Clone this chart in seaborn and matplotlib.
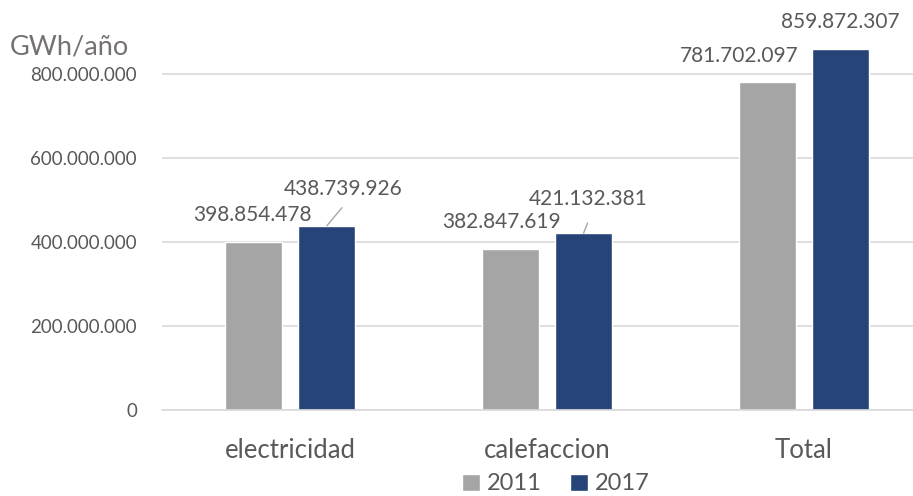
import numpy as np
import pandas as pd
import matplotlib
matplotlib.use("Agg")
import matplotlib.pyplot as plt
from matplotlib.ticker import FuncFormatter
import seaborn as sns

# data
categories = ["electricidad", "calefaccion", "Total"]
years = ["2011", "2017"]
values_2011 = [398854478, 382847619, 781702097]
values_2017 = [438739926, 421132381, 859872307]
label_2011 = ["398.854.478", "382.847.619", "781.702.097"]
label_2017 = ["438.739.926", "421.132.381", "859.872.307"]

df = pd.DataFrame({
    "categoria": categories * 2,
    "year": [years[0]] * 3 + [years[1]] * 3,
    "valor": values_2011 + values_2017,
})

sns.set_theme(style="white")
plt.rcParams["font.family"] = ["Lato", "DejaVu Sans"]

text_col = "#595959"
colors = {"2011": "#A5A5A5", "2017": "#264478"}

fig = plt.figure(figsize=(9.13, 4.96), dpi=100)
ax = fig.add_axes([162 / 913, 86 / 496, 770 / 913, 378 / 496])

sns.barplot(data=df, x="categoria", y="valor", hue="year", palette=colors,
            width=0.57, gap=0.22, ax=ax, saturation=1, errorbar=None)

ax.set_xlim(-0.5, 2.5)
ax.set_ylim(0, 900000000)
ax.set_yticks(np.arange(0, 800000001, 200000000))
ax.yaxis.set_major_formatter(FuncFormatter(lambda v, p: f"{v:,.0f}".replace(",", ".")))
ax.set_xlabel("")
ax.set_ylabel("")
ax.grid(axis="y", color="#D9D9D9", linewidth=1.2)
ax.set_axisbelow(True)
for s in ["top", "right", "left"]:
    ax.spines[s].set_visible(False)
ax.spines["bottom"].set_color("#D9D9D9")
ax.spines["bottom"].set_linewidth(1.2)
ax.tick_params(axis="y", labelsize=13.5, labelcolor=text_col, length=0, pad=18)
ax.tick_params(axis="x", labelsize=18.5, labelcolor=text_col, length=0, pad=20)

# data labels (offsets in pixels from bar top centre)
bars_2011 = ax.containers[0]
bars_2017 = ax.containers[1]
off_2011 = [(-1, 27), (-9, 27), (-28, 26)]
off_2017 = [(16, 37), (5, 34), (0, 27)]
for bars, labels, offs in [(bars_2011, label_2011, off_2011), (bars_2017, label_2017, off_2017)]:
    for bar, lab, (dx, dy) in zip(bars, labels, offs):
        cx = bar.get_x() + bar.get_width() / 2
        top = bar.get_height()
        ax.annotate(lab, (cx, top), xytext=(dx, dy), textcoords="offset pixels",
                    ha="center", va="center", fontsize=15, color=text_col,
                    annotation_clip=False)

# leader lines for the shifted 2017 labels
for bar, (x1, y1) in zip(list(bars_2017)[:2], [(15, 18), (4, 10)]):
    cx = bar.get_x() + bar.get_width() / 2
    top = bar.get_height()
    ax.annotate("", (cx, top), xytext=(x1, y1), textcoords="offset pixels",
                arrowprops=dict(arrowstyle="-", color="#A6A6A6", lw=1,
                                shrinkA=0, shrinkB=0, relpos=(0.5, 0.5)),
                annotation_clip=False)

fig.text(10 / 913, 1 - 47 / 496, "GWh/año", fontsize=19.5, color="#767171",
         ha="left", va="center")

sns.move_legend(ax, "center", bbox_to_anchor=(556 / 913, 1 - 484 / 496),
                bbox_transform=fig.transFigure, ncol=2, frameon=False,
                title=None, fontsize=17, handlelength=0.75, handleheight=0.75,
                handletextpad=0.3, columnspacing=1.2, labelcolor=text_col)

fig.savefig("out.png", dpi=100)
